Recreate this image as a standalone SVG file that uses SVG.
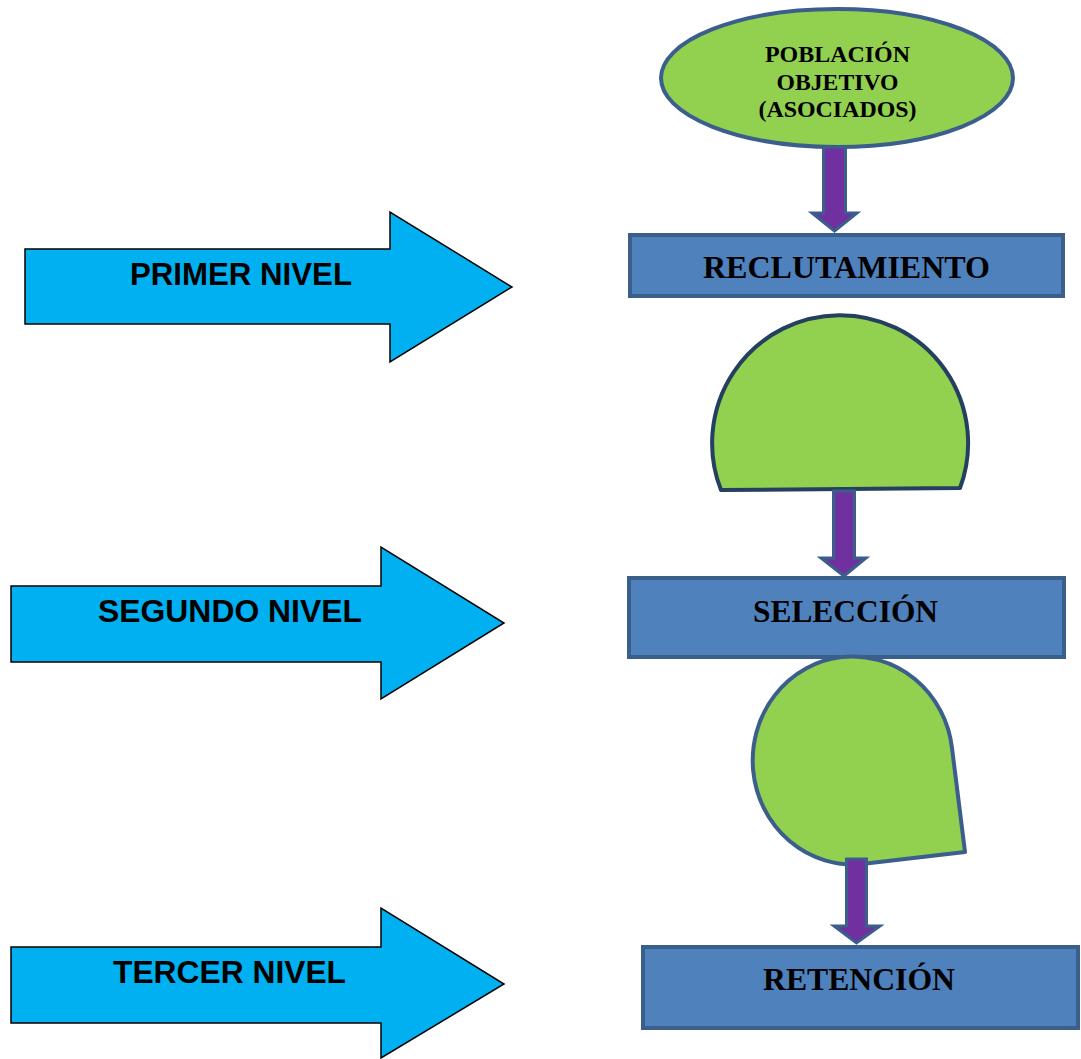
<svg xmlns="http://www.w3.org/2000/svg" width="1081" height="1059" viewBox="0 0 1081 1059">
<style>
.lvl{fill:#00B0F0;stroke:#000;stroke-width:1.5;stroke-linejoin:miter}
.lvlt{font-family:"Liberation Sans",Arial,sans-serif;font-weight:bold;font-size:31px;fill:#000;text-anchor:middle}
.box{fill:#4F81BD;stroke:#3A5F8B;stroke-width:4}
.boxt{font-family:"Liberation Serif","Times New Roman",serif;font-weight:bold;font-size:31px;fill:#000;text-anchor:middle}
.green{fill:#92D050;stroke-width:4;stroke-linejoin:round}
.conn{fill:#7030A0;stroke:#3B5E8C;stroke-width:3;stroke-linejoin:miter}
</style>
<rect width="1081" height="1059" fill="#fff"/>
<g id="nivel1">
<polygon class="lvl" points="25,249 390,249 390,212 512,287 390,362 390,324 25,324"/>
<text class="lvlt" x="241" y="285" textLength="222" lengthAdjust="spacingAndGlyphs">PRIMER NIVEL</text>
</g>
<g id="nivel2">
<polygon class="lvl" points="11,586 381,586 381,547 504,623 381,699 381,662 11,662"/>
<text class="lvlt" x="230" y="622" textLength="264" lengthAdjust="spacingAndGlyphs">SEGUNDO NIVEL</text>
</g>
<g id="nivel3">
<polygon class="lvl" points="11,947 381,947 381,908 504,984 381,1058 381,1023 11,1023"/>
<text class="lvlt" x="229.5" y="983" textLength="233" lengthAdjust="spacingAndGlyphs">TERCER NIVEL</text>
</g>
<g id="poblacion">
<ellipse cx="837" cy="78" rx="176" ry="69" fill="#92D050" stroke="#3B5E8C" stroke-width="4"/>
<text class="boxt" style="font-size:23px" x="837.5" y="62" textLength="145" lengthAdjust="spacingAndGlyphs">POBLACIÓN</text>
<text class="boxt" style="font-size:23px" x="837.5" y="90" textLength="122" lengthAdjust="spacingAndGlyphs">OBJETIVO</text>
<text class="boxt" style="font-size:23px" x="837.5" y="117" textLength="158" lengthAdjust="spacingAndGlyphs">(ASOCIADOS)</text>
</g>
<g id="reclutamiento">
<rect class="box" x="630" y="235" width="433" height="61"/>
<text class="boxt" x="846.5" y="278" textLength="287" lengthAdjust="spacingAndGlyphs">RECLUTAMIENTO</text>
</g>
<g id="semicirculo">
<path class="green" stroke="#243F60" d="M721,490 L960,488 A128,128 0 1 0 721,490 Z"/>
</g>
<g id="seleccion">
<rect class="box" x="629" y="578" width="435" height="79"/>
<text class="boxt" x="845.5" y="622" textLength="185" lengthAdjust="spacingAndGlyphs">SELECCIÓN</text>
</g>
<g id="lagrima">
<path class="green" stroke="#3B5E8C" stroke-linejoin="miter" d="M952,748 L965,852 L862,864 A100,104 0 1 1 952,748 Z"/>
</g>
<g id="retencion">
<rect class="box" x="643" y="947" width="435" height="81"/>
<text class="boxt" x="859" y="990" textLength="192" lengthAdjust="spacingAndGlyphs">RETENCIÓN</text>
</g>
<g id="connectors">
<polygon class="conn" points="823.5,147 845.5,147 845.5,213 857,213 834.5,231 812,213 823.5,213"/>
<polygon class="conn" points="833.5,491 854.5,491 854.5,558 866,558 844,576 821,558 833.5,558"/>
<polygon class="conn" points="846.5,859 866.5,859 866.5,926 880,926 856.5,943 834,926 846.5,926"/>
</g>
</svg>
